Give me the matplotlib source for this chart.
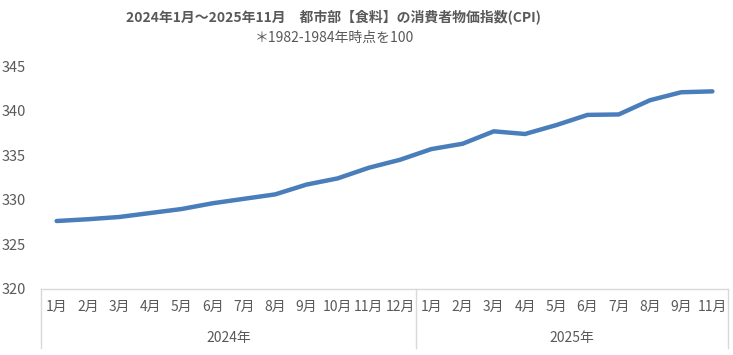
import numpy as np
import matplotlib.pyplot as plt
from matplotlib import transforms

plt.rcParams['font.family'] = ['Noto Sans CJK JP', 'DejaVu Sans']

# 2024年1月～2025年11月 (2025年10月は無し)
months_2024 = ["1月", "2月", "3月", "4月", "5月", "6月", "7月", "8月", "9月", "10月", "11月", "12月"]
months_2025 = ["1月", "2月", "3月", "4月", "5月", "6月", "7月", "8月", "9月", "11月"]
years = ["2024年", "2025年"]

cpi_2024 = [327.6, 327.8, 328.05, 328.5, 328.95, 329.6, 330.1, 330.6, 331.7, 332.4, 333.6, 334.5]
cpi_2025 = [335.7, 336.3, 337.7, 337.4, 338.4, 339.55, 339.6, 341.2, 342.1, 342.2]

title = "2024年1月～2025年11月　都市部【食料】の消費者物価指数(CPI)"
subtitle = "＊1982-1984年時点を100"

labels = months_2024 + months_2025
values = cpi_2024 + cpi_2025
x = np.arange(len(values))

text_color = "#595959"
grid_color = "#d9d9d9"

fig = plt.figure(figsize=(7.33, 3.55), dpi=100)
ax = fig.add_axes([41 / 733, 66.5 / 355, 687 / 733, 222 / 355])

ax.plot(x, values, color="#4a7ebb", linewidth=3.2, solid_capstyle="round", solid_joinstyle="round")

ax.set_xlim(-0.5, len(values) - 0.5)
ax.set_ylim(320, 345)
ax.set_yticks(np.arange(320, 346, 5))
ax.tick_params(axis="y", length=0, pad=11, labelsize=10.5, labelcolor=text_color)
ax.set_xticks([])

for s in ["top", "right", "left"]:
    ax.spines[s].set_visible(False)
ax.spines["bottom"].set_color(grid_color)
ax.spines["bottom"].set_linewidth(1)

# 2段のカテゴリ軸
trans = transforms.blended_transform_factory(ax.transData, ax.transAxes)
for i, lab in enumerate(labels):
    ax.text(i, -0.083, lab, transform=trans, ha="center", va="center",
            fontsize=10, color=text_color)

n1 = len(months_2024)
bounds = [-0.5, n1 - 0.5, len(values) - 0.5]
for b in bounds:
    ax.plot([b, b], [0, -0.268], transform=trans, color=grid_color, linewidth=1, clip_on=False)
for j, yr in enumerate(years):
    ax.text((bounds[j] + bounds[j + 1]) / 2, -0.223, yr, transform=trans,
            ha="center", va="center", fontsize=10, color=text_color)

fig.text(333 / 733, 1 - 17 / 355, title, ha="center", va="center",
         fontsize=10, fontweight="bold", color=text_color)
fig.text(334 / 733, 1 - 38 / 355, subtitle, ha="center", va="center",
         fontsize=10, color=text_color)

fig.savefig("out.png", dpi=100)
